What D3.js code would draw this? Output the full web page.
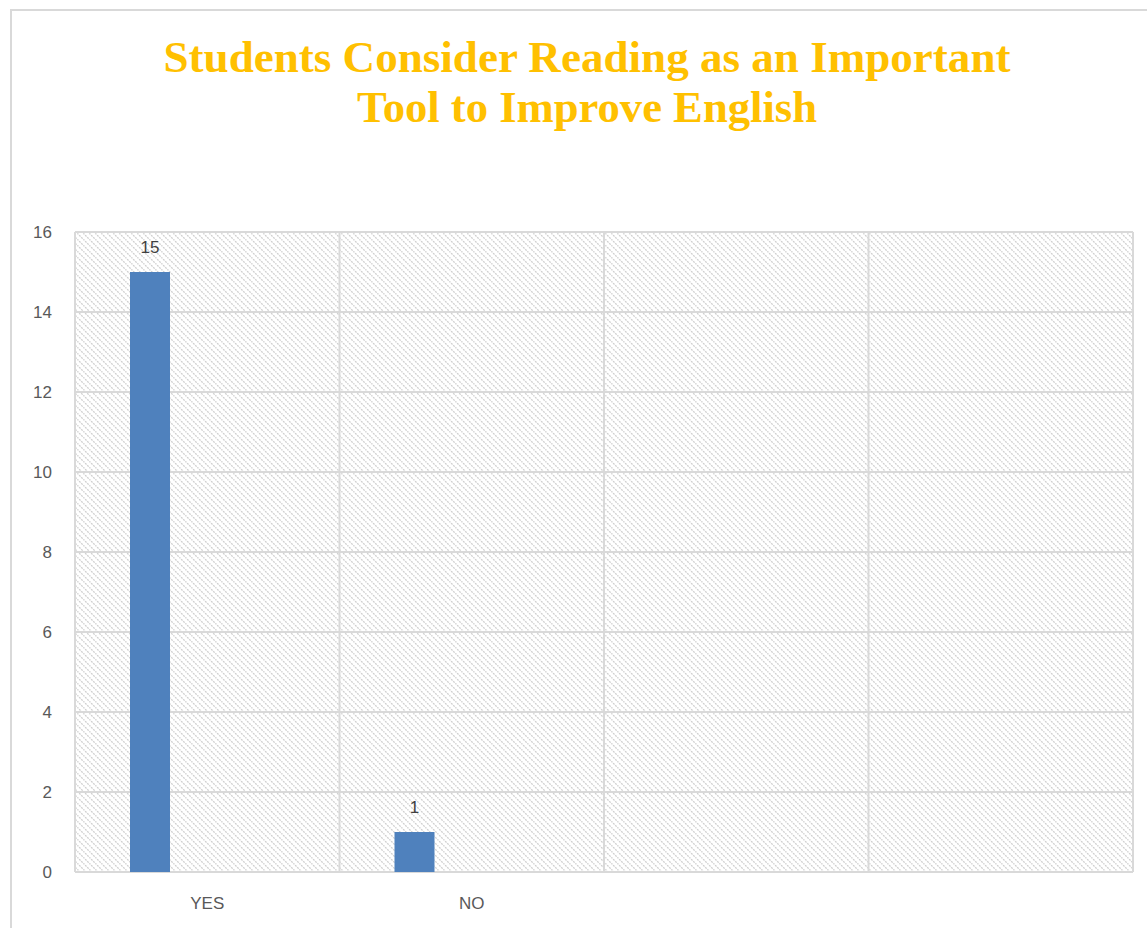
<!DOCTYPE html>
<html>
<head>
<meta charset="utf-8">
<script src="https://cdn.jsdelivr.net/npm/d3@7"></script>
<style>
  body { margin: 0; background: #fff; }
  svg { display: block; }
</style>
</head>
<body>
<svg id="chart" width="1147" height="928"></svg>
<script>
const titleLines = ["Students Consider Reading as an Important", "Tool to Improve English"];
const categories = ["YES", "NO", "", " "];
const values = [15, 1, null, null];
const yTicks = [0, 2, 4, 6, 8, 10, 12, 14, 16];

const svg = d3.select("#chart");
const W = 1147, H = 928;
const m = { left: 75, top: 232, right: 1133, bottom: 872 };

// pattern
const defs = svg.append("defs");
const pat = defs.append("pattern")
  .attr("id", "hatch").attr("patternUnits", "userSpaceOnUse")
  .attr("width", 6).attr("height", 6);
pat.append("rect").attr("width", 6).attr("height", 6).attr("fill", "#fff");
pat.append("path").attr("d", "M-1,-1 L7,7 M-7,-1 L1,7 M5,-1 L13,7")
  .attr("stroke", "#cfcfcf").attr("stroke-width", 1.3).attr("stroke-dasharray", "2,1");

// outer chart border
svg.append("rect").attr("x", 11).attr("y", 10).attr("width", W + 20).attr("height", H + 20)
  .attr("fill", "#fff").attr("stroke", "#d9d9d9").attr("stroke-width", 2);

// title
const titleWidths = [847, 460];
svg.append("g").selectAll("text").data(titleLines).join("text")
  .attr("x", 587).attr("y", (d, i) => 72 + i * 50)
  .attr("text-anchor", "middle")
  .attr("font-family", "'Liberation Serif', 'DejaVu Serif', serif")
  .attr("font-weight", "bold").attr("font-size", 44)
  .attr("fill", "#FFC000")
  .attr("textLength", (d, i) => titleWidths[i])
  .attr("lengthAdjust", "spacingAndGlyphs")
  .text(d => d);

const x = d3.scaleBand().domain(categories).range([m.left, m.right]).padding(0);
const y = d3.scaleLinear().domain([0, 16]).range([m.bottom, m.top]);

// plot area with hatch
svg.append("rect").attr("x", m.left).attr("y", m.top)
  .attr("width", m.right - m.left).attr("height", m.bottom - m.top)
  .attr("fill", "url(#hatch)");

// horizontal gridlines
svg.append("g").selectAll("line").data(yTicks).join("line")
  .attr("x1", m.left).attr("x2", m.right)
  .attr("y1", d => y(d)).attr("y2", d => y(d))
  .attr("stroke", "#d9d9d9").attr("stroke-width", 2);

// vertical gridlines (category boundaries)
const bounds = categories.map(c => x(c)).concat([m.right]);
svg.append("g").selectAll("line").data(bounds).join("line")
  .attr("x1", d => d).attr("x2", d => d)
  .attr("y1", m.top).attr("y2", m.bottom)
  .attr("stroke", "#d9d9d9").attr("stroke-width", 2);

// bars
const barOffset = 55, barW = 40;
const barData = categories.map((c, i) => ({ c, v: values[i] })).filter(d => d.v != null);
svg.append("g").selectAll("rect").data(barData).join("rect")
  .attr("x", d => x(d.c) + barOffset)
  .attr("y", d => y(d.v))
  .attr("width", barW)
  .attr("height", d => y(0) - y(d.v))
  .attr("fill", "#4F81BD");

// data labels
svg.append("g").selectAll("text").data(barData).join("text")
  .attr("x", d => x(d.c) + barOffset + barW / 2)
  .attr("y", d => y(d.v) - 19)
  .attr("text-anchor", "middle")
  .attr("font-family", "'Liberation Sans', Arial, sans-serif")
  .attr("font-size", 17).attr("fill", "#404040")
  .text(d => d.v);

// y axis labels
const yAxis = d3.axisLeft(y).tickValues(yTicks).tickSize(0).tickPadding(23);
const gy = svg.append("g").attr("transform", `translate(${m.left},0)`).call(yAxis);
gy.select(".domain").remove();
gy.selectAll("text").attr("font-family", "'Liberation Sans', Arial, sans-serif")
  .attr("font-size", 17).attr("fill", "#595959");

// x axis labels
const xAxis = d3.axisBottom(x).tickSize(0).tickPadding(25);
const gx = svg.append("g").attr("transform", `translate(0,${m.bottom})`).call(xAxis);
gx.select(".domain").remove();
gx.selectAll("text").attr("font-family", "'Liberation Sans', Arial, sans-serif")
  .attr("font-size", 17).attr("fill", "#595959");
</script>
</body>
</html>
